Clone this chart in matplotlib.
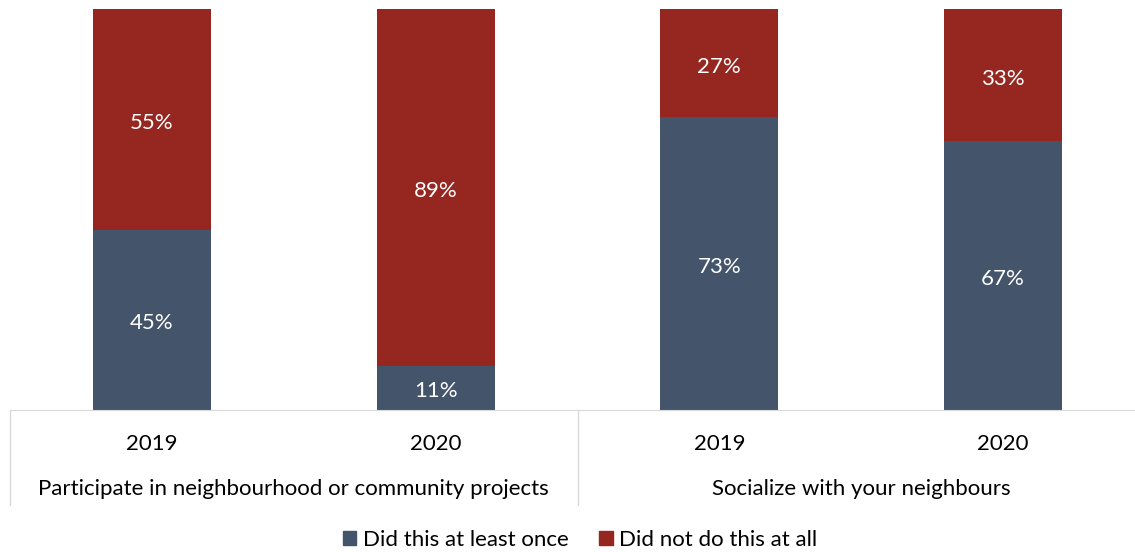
import matplotlib.pyplot as plt
from matplotlib.patches import Patch

years = ["2019", "2020", "2019", "2020"]
groups = ["Participate in neighbourhood or community projects", "Socialize with your neighbours"]
did_once = [45, 11, 73, 67]
did_not = [55, 89, 27, 33]

blue = "#44546A"
red = "#952620"
plt.rcParams["font.family"] = ["Lato", "DejaVu Sans"]

fig = plt.figure(figsize=(11.35, 5.52), dpi=100)
ax = fig.add_axes([10 / 1135, 142 / 552, 1135 / 1135, 401 / 552])

x = list(range(len(years)))
ax.bar(x, did_once, width=0.416, color=blue)
ax.bar(x, did_not, width=0.416, bottom=did_once, color=red)

for i in x:
    ax.annotate(f"{did_once[i]}%", (i, did_once[i] / 2), xytext=(0, -2.5),
                textcoords="offset points", ha="center", va="center",
                color="white", fontsize=16)
    ax.annotate(f"{did_not[i]}%", (i, did_once[i] + did_not[i] / 2),
                xytext=(0, -2.5), textcoords="offset points", ha="center",
                va="center", color="white", fontsize=16)

ax.set_xlim(-0.5, 3.5)
ax.set_ylim(0, 100)
ax.set_yticks([])
ax.set_xticks(x)
ax.set_xticklabels(years, fontsize=16)
ax.tick_params(axis="x", length=0, pad=17)
for s in ["top", "left", "right"]:
    ax.spines[s].set_visible(False)
ax.spines["bottom"].set_color("#d9d9d9")

# group labels and separators below the axis
tr = ax.get_xaxis_transform()
for gx in [-0.5, 1.5]:
    ax.plot([gx, gx], [0, -95 / 401], transform=tr, color="#d9d9d9",
            lw=1, clip_on=False)
for j, g in enumerate(groups):
    ax.text(0.5 + 2 * j, -79 / 401, g, transform=tr, ha="center",
            va="center", fontsize=16)

handles = [Patch(color=blue, label="Did this at least once"),
           Patch(color=red, label="Did not do this at all")]
fig.legend(handles=handles, loc="center", bbox_to_anchor=(580 / 1135, 12 / 552),
           ncol=2, frameon=False, fontsize=16, handlelength=0.6,
           handleheight=0.6, handletextpad=0.3, columnspacing=1.4)

fig.savefig("out.png", dpi=100)
